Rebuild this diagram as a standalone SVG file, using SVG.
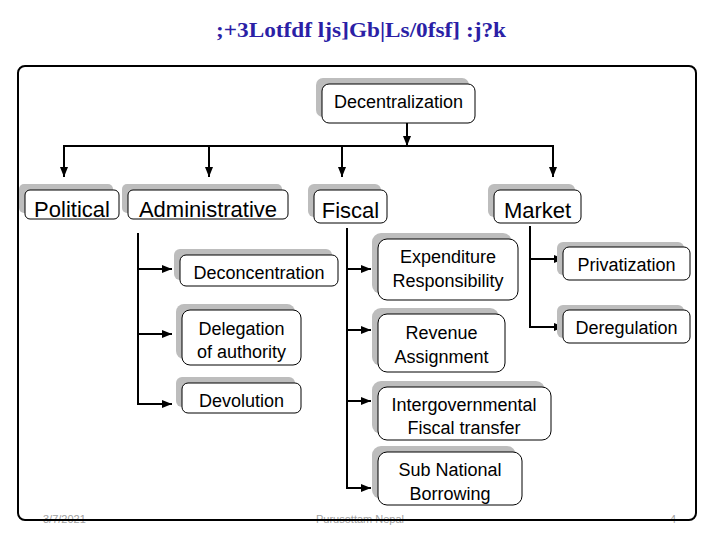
<svg xmlns="http://www.w3.org/2000/svg" width="720" height="540" viewBox="0 0 720 540">
<style>
.title{font-family:"Liberation Serif",serif;font-weight:bold;font-size:20px;fill:#2b1fa6}
.box{fill:#ffffff;stroke:#000;stroke-width:1}
.sh{fill:#bdbdbd}
.t1{font-family:"Liberation Sans",Arial,sans-serif;font-size:22px;fill:#000;text-anchor:middle}
.t2{font-family:"Liberation Sans",Arial,sans-serif;font-size:18px;fill:#000;text-anchor:middle}
.foot{font-family:"Liberation Sans",Arial,sans-serif;font-size:11px;fill:#a0a0a0}
.ln{fill:none;stroke:#000;stroke-width:2}
.ar{fill:none;stroke:#000;stroke-width:2;marker-end:url(#ah)}
</style>
<defs>
<marker id="ah" markerUnits="userSpaceOnUse" markerWidth="10" markerHeight="10" viewBox="0 0 10 10" refX="10" refY="5" orient="auto">
<path d="M0,1 L10,5 L0,9 Z" fill="#000"/>
</marker>
</defs>
<rect width="720" height="540" fill="#fff"/>
<text class="title" x="216" y="37" textLength="290" lengthAdjust="spacingAndGlyphs">;+3Lotfdf ljs]Gb|Ls/0fsf] :j?k</text>

<g id="footer">
<text class="foot" x="43" y="523">3/7/2021</text>
<text class="foot" x="316" y="523">Purusottam Nepal</text>
<text class="foot" x="670" y="523">4</text>
</g>
<rect x="18" y="66" width="678" height="454" rx="7" fill="none" stroke="#000" stroke-width="2"/>

<g id="connectors">
<line class="ar" x1="407" y1="123" x2="407" y2="146"/>
<line class="ln" x1="63" y1="146" x2="554" y2="146"/>
<line class="ar" x1="64" y1="146" x2="64" y2="177"/>
<line class="ar" x1="209" y1="146" x2="209" y2="177"/>
<line class="ar" x1="342" y1="146" x2="342" y2="177"/>
<line class="ar" x1="553" y1="146" x2="553" y2="177"/>
<polyline class="ln" points="138,233 138,404"/>
<line class="ar" x1="137" y1="269" x2="172" y2="269"/>
<line class="ar" x1="137" y1="334" x2="172" y2="334"/>
<line class="ar" x1="137" y1="404" x2="172" y2="404"/>
<polyline class="ln" points="347,228 347,488"/>
<line class="ar" x1="346" y1="269" x2="371" y2="269"/>
<line class="ar" x1="346" y1="330" x2="371" y2="330"/>
<line class="ar" x1="346" y1="401" x2="371" y2="401"/>
<line class="ar" x1="346" y1="488" x2="371" y2="488"/>
<polyline class="ln" points="530,226 530,327"/>
<line class="ar" x1="529" y1="259" x2="564" y2="259"/>
<line class="ar" x1="529" y1="327" x2="564" y2="327"/>
</g>

<g id="decentralization">
<rect class="sh" x="316" y="78" width="153" height="39" rx="7"/>
<rect class="box" x="322" y="84" width="153" height="39" rx="7"/>
<text class="t2" x="398.5" y="108">Decentralization</text>
</g>
<g id="political">
<rect class="sh" x="19" y="184" width="94" height="29" rx="5"/>
<rect class="box" x="25" y="190" width="94" height="29" rx="5"/>
<text class="t1" x="72" y="217">Political</text>
</g>
<g id="administrative">
<rect class="sh" x="122" y="184" width="160" height="29" rx="5"/>
<rect class="box" x="128" y="190" width="160" height="29" rx="5"/>
<text class="t1" x="208" y="217">Administrative</text>
</g>
<g id="fiscal">
<rect class="sh" x="308" y="184" width="73" height="33" rx="6"/>
<rect class="box" x="314" y="190" width="73" height="33" rx="6"/>
<text class="t1" x="350.5" y="218">Fiscal</text>
</g>
<g id="market">
<rect class="sh" x="488" y="184" width="87" height="33" rx="6"/>
<rect class="box" x="494" y="190" width="87" height="33" rx="6"/>
<text class="t1" x="537.5" y="218">Market</text>
</g>

<g id="deconcentration">
<rect class="sh" x="174" y="249" width="158" height="31" rx="6"/>
<rect class="box" x="180" y="255" width="158" height="31" rx="6"/>
<text class="t2" x="259" y="279">Deconcentration</text>
</g>
<g id="delegation">
<rect class="sh" x="176" y="304" width="119" height="55" rx="8"/>
<rect class="box" x="182" y="310" width="119" height="55" rx="8"/>
<text class="t2" x="241.5" y="335">Delegation</text>
<text class="t2" x="241.5" y="358">of authority</text>
</g>
<g id="devolution">
<rect class="sh" x="176" y="377" width="119" height="30" rx="6"/>
<rect class="box" x="182" y="383" width="119" height="30" rx="6"/>
<text class="t2" x="241.5" y="407">Devolution</text>
</g>

<g id="expenditure">
<rect class="sh" x="372" y="233" width="140" height="61" rx="9"/>
<rect class="box" x="378" y="239" width="140" height="61" rx="9"/>
<text class="t2" x="448" y="263">Expenditure</text>
<text class="t2" x="448" y="287">Responsibility</text>
</g>
<g id="revenue">
<rect class="sh" x="372" y="308" width="127" height="58" rx="9"/>
<rect class="box" x="378" y="314" width="127" height="58" rx="9"/>
<text class="t2" x="441.5" y="339">Revenue</text>
<text class="t2" x="441.5" y="363">Assignment</text>
</g>
<g id="intergovernmental">
<rect class="sh" x="372" y="381" width="173" height="53" rx="9"/>
<rect class="box" x="378" y="387" width="173" height="53" rx="9"/>
<text class="t2" x="464" y="411">Intergovernmental</text>
<text class="t2" x="464" y="434">Fiscal transfer</text>
</g>
<g id="subnational">
<rect class="sh" x="372" y="446" width="144" height="53" rx="9"/>
<rect class="box" x="378" y="452" width="144" height="53" rx="9"/>
<text class="t2" x="450" y="476">Sub National</text>
<text class="t2" x="450" y="500">Borrowing</text>
</g>

<g id="privatization">
<rect class="sh" x="557" y="242" width="127" height="33" rx="6"/>
<rect class="box" x="563" y="247" width="127" height="33" rx="6"/>
<text class="t2" x="626.5" y="271">Privatization</text>
</g>
<g id="deregulation">
<rect class="sh" x="557" y="305" width="127" height="33" rx="6"/>
<rect class="box" x="563" y="310" width="127" height="33" rx="6"/>
<text class="t2" x="626.5" y="334">Deregulation</text>
</g>
</svg>
